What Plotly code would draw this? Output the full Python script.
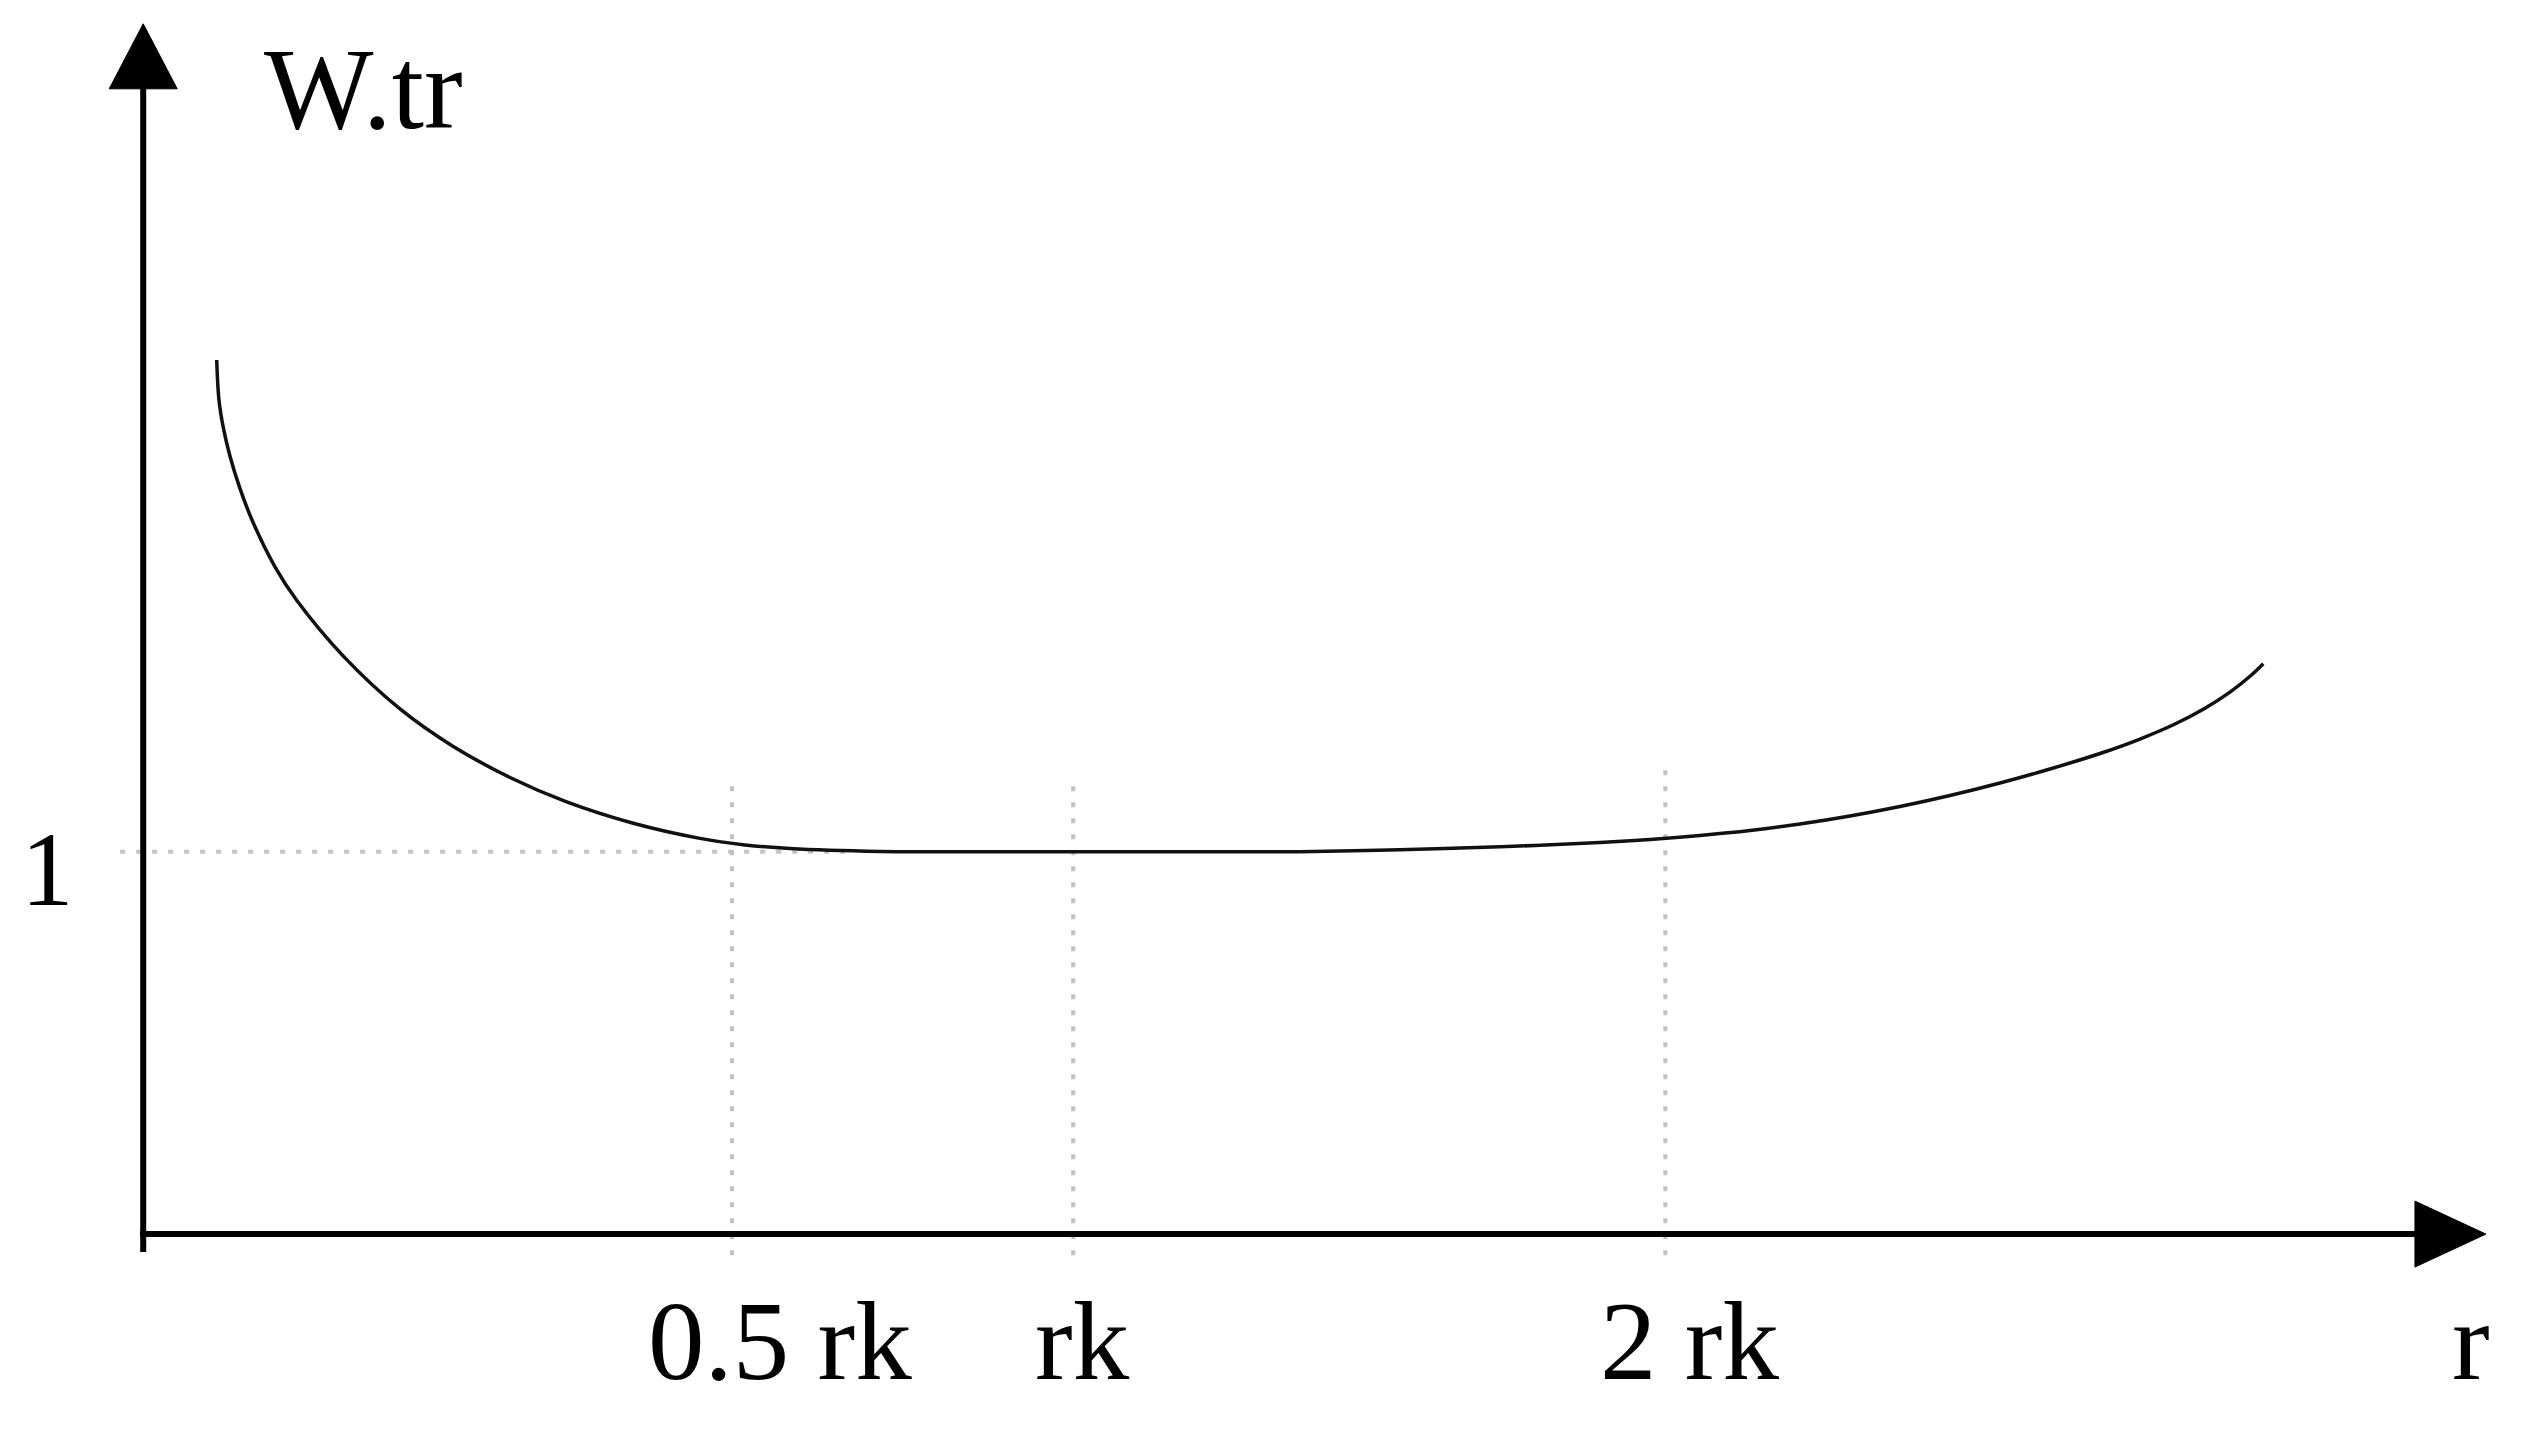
import plotly.graph_objects as go

# ---- data (schematic units) ----
curve_r = [0.4568, 0.4711, 0.4978, 0.5395, 0.6017, 0.6843, 0.8191, 0.9540, 1.2436, 1.5960,
           1.9273, 2.2797, 2.6321, 3.0460, 3.4605, 3.7402, 4.0199, 4.5792, 5.0764, 5.6358,
           6.2573, 6.7545, 7.1896, 7.8111, 8.4326, 9.0541, 9.3648, 9.6756, 9.9863, 10.2971,
           10.6078, 10.9186, 11.2293, 11.5401, 11.8508, 12.1616, 12.4102, 12.6277, 12.8142,
           12.9695, 13.0938, 13.1765]
curve_w = [2.2858, 2.1807, 2.1088, 2.0343, 1.9495, 1.8596, 1.7450, 1.6574, 1.5115, 1.3734,
           1.2751, 1.1941, 1.1302, 1.0743, 1.0348, 1.0178, 1.0081, 1.0005, 1.0000, 1.0000,
           1.0000, 1.0000, 1.0000, 1.0050, 1.0128, 1.0241, 1.0319, 1.0424, 1.0554, 1.0724,
           1.0934, 1.1182, 1.1470, 1.1797, 1.2163, 1.2568, 1.2947, 1.3339, 1.3753,
           1.4174, 1.4587, 1.4916]

tick_pos = [3.66, 5.78, 9.46]
tick_text = ["0.5 rk", "rk", "2 rk"]
tick_label_x = [3.958, 5.84, 9.61]
guide_top = [1.20, 1.188, 1.219]
y_tick_val = 1
y_tick_text = "1"
x_label = "r"
y_label = "W.tr"

W, H = 2523, 1434
SX = 160.9   # px per x unit
SY = 382.4   # px per y unit
OFF = 8      # page body margin
XR = [-143.2 / SX + OFF / SX, (W - 143.2) / SX + OFF / SX]
YR = [-(H - 1234.1) / SY - OFF / SY, 1234.1 / SY - OFF / SY]

FONT = "Liberation Serif"
GRID = "#c2c2c2"

fig = go.Figure()

# guide lines
fig.add_trace(go.Scatter(x=[-0.143, 4.4], y=[y_tick_val, y_tick_val], mode="lines",
                         line=dict(color=GRID, width=4, dash="5px,11px"), hoverinfo="skip"))
for xp, top in zip(tick_pos, guide_top):
    fig.add_trace(go.Scatter(x=[xp, xp], y=[-0.055, top], mode="lines",
                             line=dict(color=GRID, width=4, dash="5px,11px"), hoverinfo="skip"))

# axes
ax_base_y = 2.995
ax_tip_y = 3.165
ax_base_x = 14.119
ax_tip_x = 14.56
fig.add_trace(go.Scatter(x=[0, 0], y=[-0.047, ax_base_y + 0.01], mode="lines",
                         line=dict(color="black", width=6), hoverinfo="skip"))
fig.add_trace(go.Scatter(x=[-0.02, ax_base_x + 0.01], y=[0, 0], mode="lines",
                         line=dict(color="black", width=6), hoverinfo="skip"))
hw = 34 / SX
fig.add_trace(go.Scatter(x=[-hw, hw, 0, -hw], y=[ax_base_y, ax_base_y, ax_tip_y, ax_base_y],
                         mode="lines", fill="toself", fillcolor="black",
                         line=dict(color="black", width=1), hoverinfo="skip"))
hh = 33 / SY
fig.add_trace(go.Scatter(x=[ax_base_x, ax_base_x, ax_tip_x, ax_base_x], y=[-hh, hh, 0, -hh],
                         mode="lines", fill="toself", fillcolor="black",
                         line=dict(color="black", width=1), hoverinfo="skip"))

# curve
fig.add_trace(go.Scatter(x=curve_r, y=curve_w, mode="lines",
                         line=dict(color="#111111", width=3.5, shape="spline", smoothing=1.0),
                         hoverinfo="skip"))

ann = []
for xp, t in zip(tick_label_x, tick_text):
    ann.append(dict(x=xp, y=-0.278, text=t, showarrow=False, xanchor="center", yanchor="middle",
                    font=dict(family=FONT, size=113, color="black")))
ann.append(dict(x=14.47, y=-0.278, text=x_label, showarrow=False, xanchor="center", yanchor="middle",
                font=dict(family=FONT, size=113, color="black")))
ann.append(dict(x=-0.592, y=0.953, text=y_tick_text, showarrow=False, xanchor="center", yanchor="middle",
                font=dict(family=FONT, size=105, color="black")))
ann.append(dict(x=1.372, y=2.995, text=y_label, showarrow=False, xanchor="center", yanchor="middle",
                font=dict(family=FONT, size=116, color="black")))

fig.update_layout(
    width=W, height=H,
    margin=dict(l=0, r=0, t=0, b=0),
    paper_bgcolor="white", plot_bgcolor="white",
    showlegend=False,
    xaxis=dict(range=XR, visible=False, fixedrange=True),
    yaxis=dict(range=YR, visible=False, fixedrange=True),
    annotations=ann,
)
fig.write_html("out.html")
